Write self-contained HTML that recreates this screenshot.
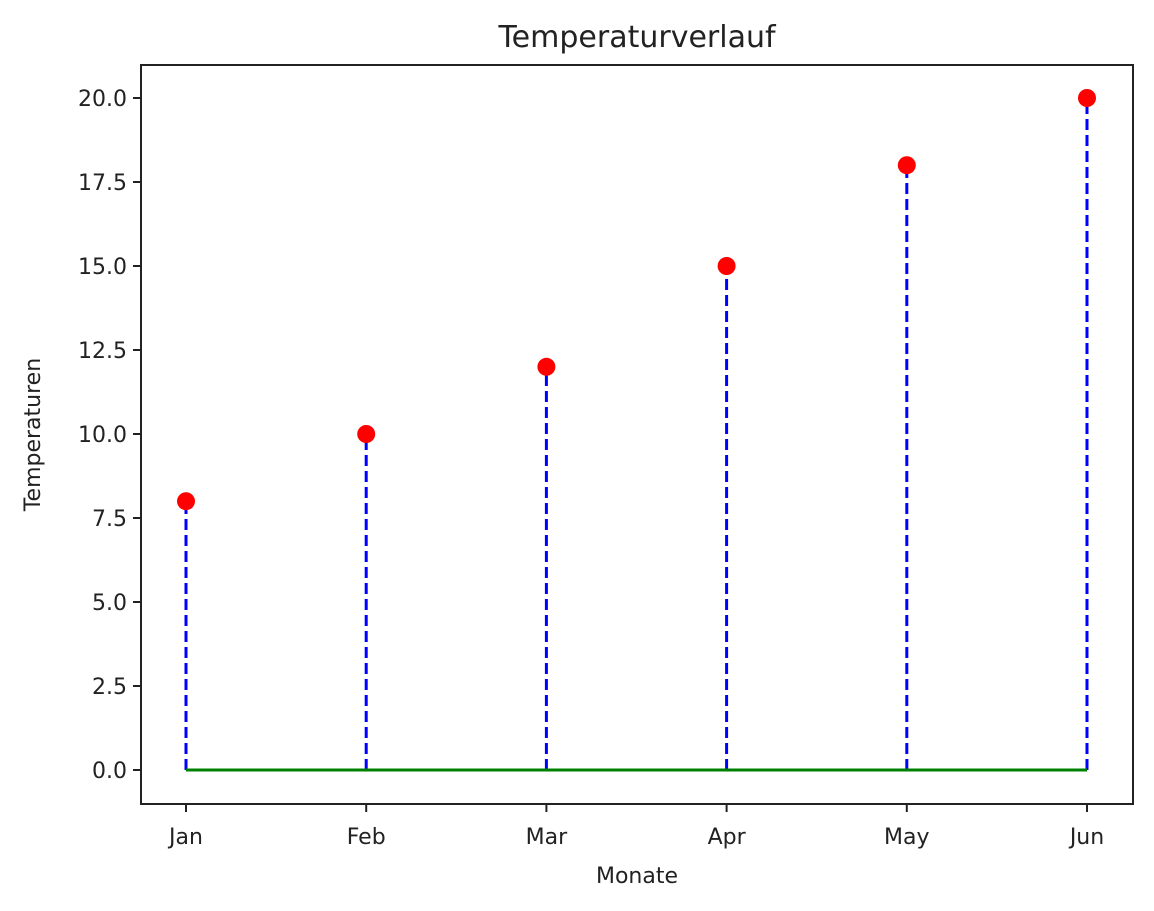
<!DOCTYPE html>
<html><head><meta charset="utf-8"><style>
html,body{margin:0;padding:0;background:#fff;}
svg text{font-family:"DejaVu Sans","Liberation Sans",sans-serif;fill:#222;}
</style></head><body>
<svg id="chart" width="1154" height="906" xmlns="http://www.w3.org/2000/svg"></svg>
<script>
const categories = ["Jan","Feb","Mar","Apr","May","Jun"];
const temperatures = [8,10,12,15,18,20];
const yTicks = [0,2.5,5,7.5,10,12.5,15,17.5,20];
const yTickLabels = ["0.0","2.5","5.0","7.5","10.0","12.5","15.0","17.5","20.0"];

const NS="http://www.w3.org/2000/svg";
const svg=document.getElementById('chart');
const L=141,R=1133,T=65,B=804;
const x0=186,x1=1087;
function xs(i){return x0+(x1-x0)*i/(categories.length-1);}
const y0px=770,y20px=98;
function ys(v){return y0px+(y20px-y0px)*v/20;}
function mk(tag,attrs,parent){const e=document.createElementNS(NS,tag);for(const k in attrs)e.setAttribute(k,attrs[k]);(parent||svg).appendChild(e);return e;}

let t=mk('text',{x:(L+R)/2,y:47,'text-anchor':'middle','font-size':30});
t.textContent='Temperaturverlauf';



let frame=mk('rect',{x:L,y:T,width:R-L,height:B-T,fill:'none',stroke:'#222','stroke-width':2});



yTicks.forEach((v,i)=>{
  const y=ys(v);
  const tk=mk('line',{x1:L-8,x2:L,y1:y,y2:y,stroke:'#222','stroke-width':2});
  
  
  const lb=mk('text',{x:L-14,y:y+8,'text-anchor':'end','font-size':22});
  lb.textContent=yTickLabels[i];
  
  
});

categories.forEach((c,i)=>{
  const x=xs(i);
  const tk=mk('line',{x1:x,x2:x,y1:B,y2:B+8,stroke:'#222','stroke-width':2});
  
  
  const lb=mk('text',{x:x,y:B+40,'text-anchor':'middle','font-size':22});
  lb.textContent=c;
  
  
});

let xl=mk('text',{x:(L+R)/2,y:883,'text-anchor':'middle','font-size':22});
xl.textContent='Monate';


let yl=mk('text',{x:0,y:0,'text-anchor':'middle','font-size':22,transform:`translate(40,${(T+B)/2}) rotate(-90)`});
yl.textContent='Temperaturen';



temperatures.forEach((v,i)=>{
  const x=xs(i);
  const st=mk('line',{x1:x,x2:x,y1:ys(0),y2:ys(v),stroke:'#0000ff','stroke-width':3,'stroke-dasharray':'11,5'});
  
  
});
let base=mk('line',{x1:xs(0),x2:xs(categories.length-1),y1:ys(0),y2:ys(0),stroke:'#008000','stroke-width':3});


temperatures.forEach((v,i)=>{
  const m=mk('circle',{cx:xs(i),cy:ys(v),r:9,fill:'#ff0000'});
  
  
});
</script>
</body></html>
